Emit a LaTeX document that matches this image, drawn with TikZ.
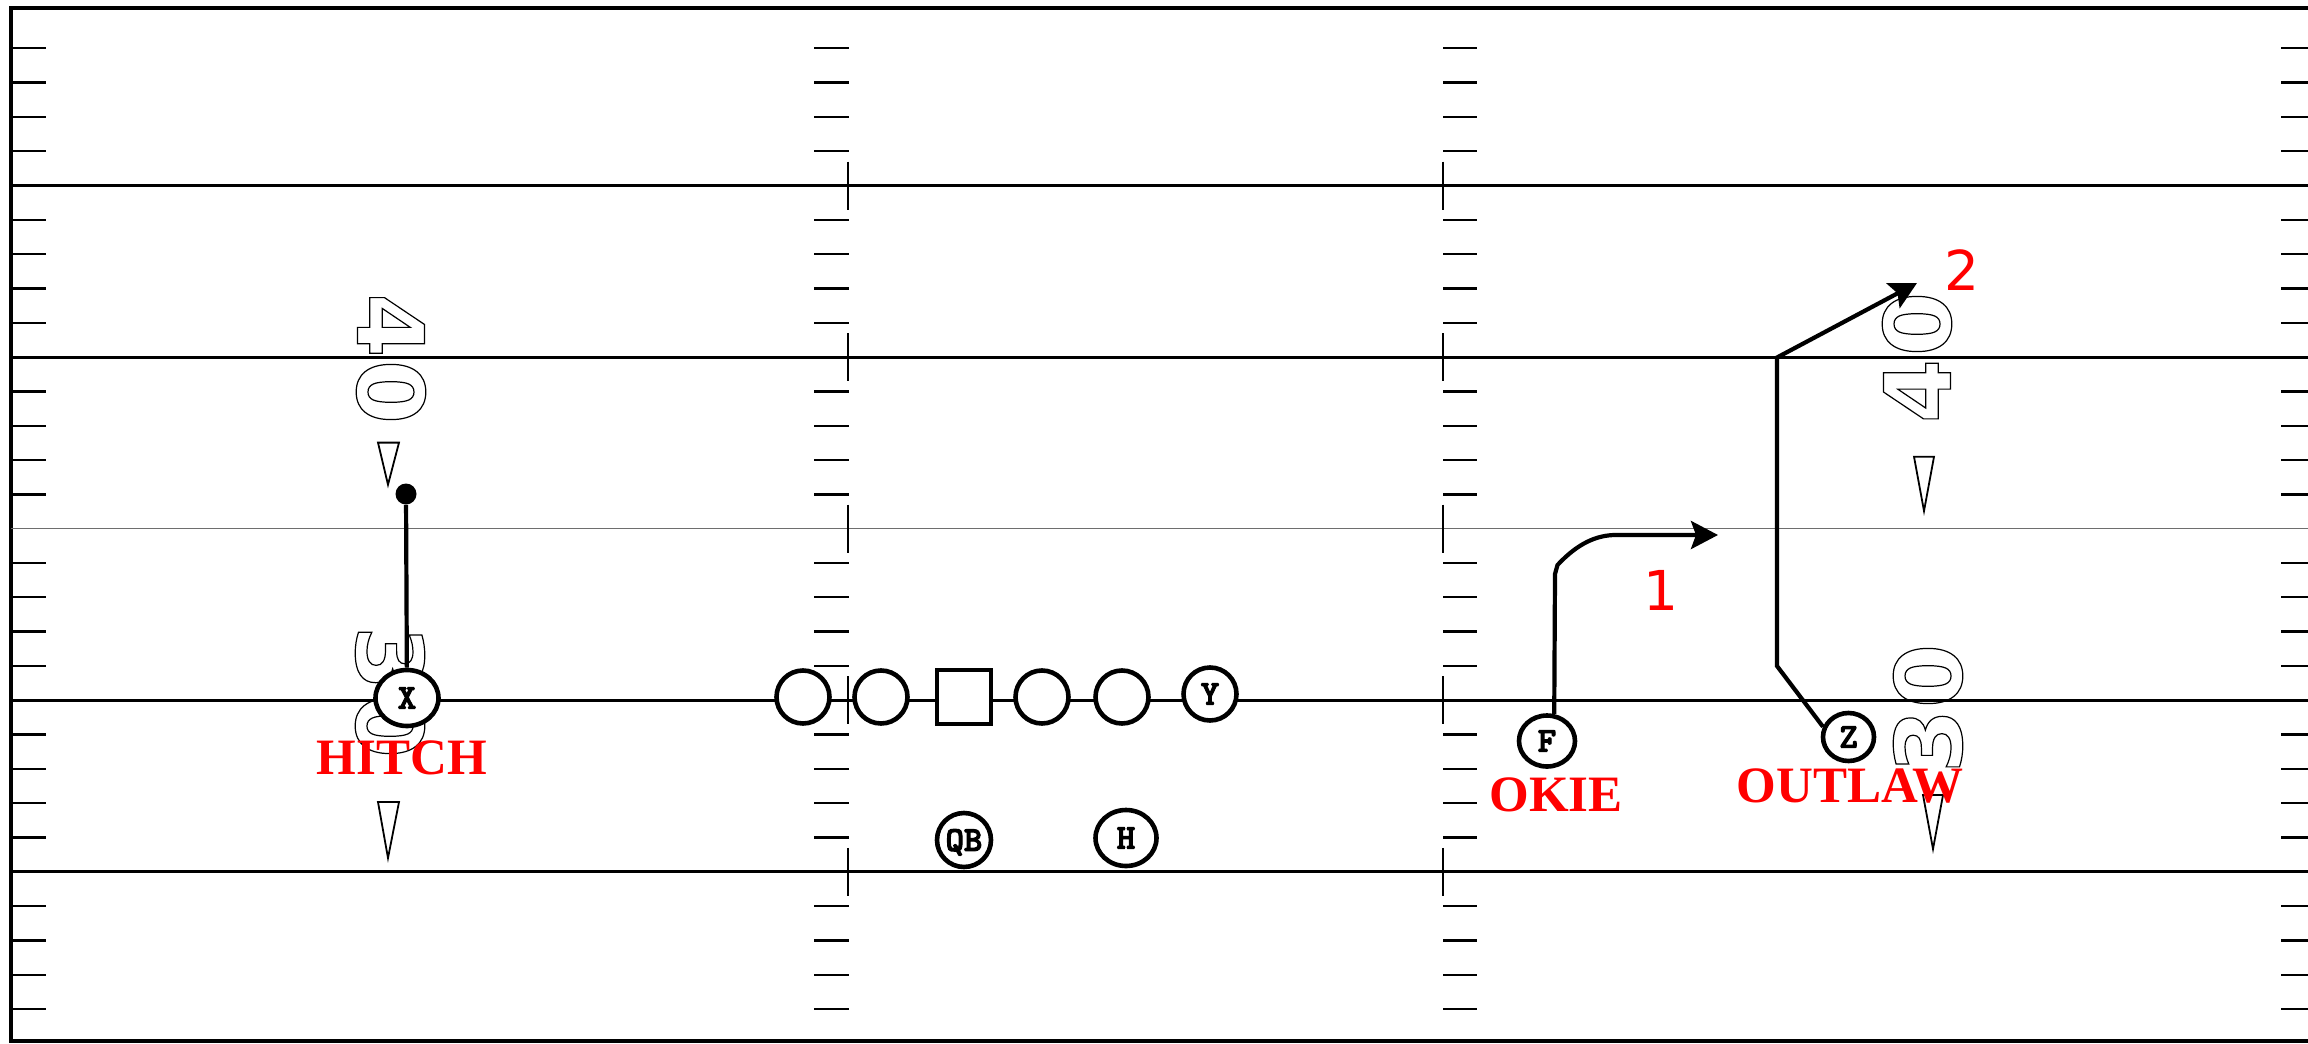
\documentclass[tikz,border=0pt]{standalone}
\usepackage{fontspec}
\setmainfont{Liberation Serif}
\newfontfamily\dvfont{DejaVu Sans}
\newfontfamily\plyfont{lmmonolt10-bold}[Extension=.otf,FakeBold=3]
\usetikzlibrary{arrows.meta,shapes.geometric}
\newcommand{\outl}[1]{\special{pdf:literal direct q 1 Tr 0.6 w}#1\special{pdf:literal direct Q}}
\begin{document}
\begin{tikzpicture}[x=0.5pt,y=-0.5pt,
  yardline/.style={line width=1.5pt},
  thinline/.style={line width=0.6pt,draw={rgb,255:red,110;green,110;blue,110}},
  tickline/.style={line width=1.15pt},
  hashv/.style={line width=0.9pt},
  tri/.style={draw,fill=white,line width=0.9pt,line join=miter},
  digit/.style={inner sep=0pt,text=black,font=\dvfont\bfseries\fontsize{46}{46}\selectfont},
  ply/.style={draw,line width=2.3pt,fill=white,inner sep=0pt,text depth=0pt,
    font=\plyfont\fontsize{17.5}{17.5}\selectfont},
  olc/.style={ply,circle,minimum size=26.5pt},
  lab/.style={inner sep=0pt,text=red,font=\bfseries\fontsize{25.5}{25.5}\selectfont},
  num/.style={inner sep=0pt,text=red,font=\dvfont\fontsize{27.5}{27.5}\selectfont},
  route/.style={line width=2.1pt},
  tip/.style={-{Stealth[length=13.5pt,width=14pt,inset=2.5pt]}},
  dotn/.style={circle,fill=black,inner sep=0pt,minimum size=10.5pt}
]
\useasboundingbox (0,0) rectangle (2308,1044);
\fill[white] (0,0) rectangle (2308,1044);

% border
\draw[line width=1.75pt] (2308,8) -- (11,8) -- (11,1041) -- (2308,1041);

% yard lines
\foreach \yy in {185.5,357.1,700.3,871.9}
  \draw[yardline] (11,\yy) -- (2308,\yy);
\draw[thinline] (11,528.7) -- (2308,528.7);

% ticks
\foreach \b in {48.2,219.8,391.4,563.0,734.6,906.2}{
  \foreach \i in {0,1,2,3}{
    \pgfmathsetmacro\ty{\b+34.32*\i}
    \draw[tickline] (11,\ty) -- (46,\ty);
    \draw[tickline] (814,\ty) -- (849,\ty);
    \draw[tickline] (1443,\ty) -- (1477,\ty);
    \draw[tickline] (2281,\ty) -- (2308,\ty);
  }
}
\foreach \yy in {185.5,357.1,528.7,700.3,871.9}{
  \draw[hashv] (848,\yy-24) -- (848,\yy+24);
  \draw[hashv] (1443,\yy-24) -- (1443,\yy+24);
}

% yard numbers
\node[digit,rotate=-90] (l4a) at (391,325.5) {\outl{4}};
\node[digit,rotate=-90] (l0a) at (391,392) {\outl{0}};
\node[digit,rotate=-90] (l3b) at (390,658) {\outl{3}};
\node[digit,rotate=-90] (l0b) at (390,726) {\outl{0}};
\node[digit,rotate=90] (r0a) at (1917,324) {\outl{0}};
\node[digit,rotate=90] (r4a) at (1917,391) {\outl{4}};
\node[digit,rotate=90] (r0b) at (1928,676) {\outl{0}};
\node[digit,rotate=90] (r3b) at (1928,741) {\outl{3}};

% direction triangles
\draw[tri] (378,442.6) -- (399,442.6) -- (388,484.7) -- cycle;
\draw[tri] (378,802) -- (399,802) -- (388,858) -- cycle;
\draw[tri] (1914,456.7) -- (1934,456.7) -- (1924,511) -- cycle;
\draw[tri] (1923,795) -- (1943,795) -- (1933,849) -- cycle;

% players
\node[olc] (lt) at (803,697) {};
\node[olc] (lg) at (881,697) {};
\node[ply,rectangle,minimum size=27pt] (c) at (964,697) {};
\node[olc] (rg) at (1042,697) {};
\node[olc] (rt) at (1122,697) {};
\node[olc] (y) at (1210,694) {Y};
\node[ply,circle,minimum size=27pt] (qb) at (964,840) {QB};
\node[ply,ellipse,minimum width=30.5pt,minimum height=28pt] (h) at (1126,838) {H};
\node[ply,ellipse,minimum width=31.5pt,minimum height=28pt] (x) at (407,698) {X};
\node[ply,ellipse,minimum width=28pt,minimum height=25.5pt] (f) at (1547,741) {F};
\node[ply,ellipse,minimum width=25.5pt,minimum height=24pt] (z) at (1848.5,737) {Z};

% route labels
\node[lab] (hitch) at (402,758) {HITCH};
\node[lab] (okie) at (1556,795) {OKIE};
\node[lab] (outlaw) at (1850,786) {OUTLAW};
\node[num] (n1) at (1661,590.7) {1};
\node[num] (n2) at (1962,270) {2};

% routes
\node[dotn] (xdot) at (406,494) {};
\draw[route] (xdot) -- (x);

\coordinate (f1) at (1555,574);
\coordinate (f2) at (1557.5,565);
\coordinate (f3) at (1616,535);
\coordinate (f4) at (1718,535);
\draw[route,tip] (f.75) -- (f1) -- (f2) .. controls (1578,543) and (1597,535) .. (f3) -- (f4);

\coordinate (z1) at (1777,666);
\coordinate (z2) at (1777,357.5);
\coordinate (z3) at (1917,283);
\draw[route,tip] (z.158) -- (z1) -- (z2) -- (z3);
\end{tikzpicture}
\end{document}
